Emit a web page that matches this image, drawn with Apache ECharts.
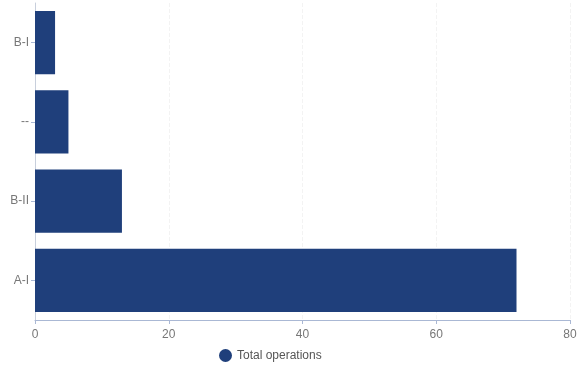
<!DOCTYPE html>
<html>
<head>
<meta charset="utf-8">
<script src="https://cdn.jsdelivr.net/npm/echarts@6/dist/echarts.min.js"></script>
<style>
  html, body { margin: 0; padding: 0; background: #fff; }
  #main { width: 580px; height: 371px; }
</style>
</head>
<body>
<div id="main"></div>
<script>
// categories bottom to top
var categories = ['A-I', 'B-II', '--', 'B-I'];
var totalOperations = [72, 13, 5, 3];
var xTicks = [0, 20, 40, 60, 80];

var myChart = echarts.init(document.getElementById('main'));
var option = {
  animation: false,
  textStyle: { fontFamily: '"Liberation Sans", Arial, sans-serif' },
  grid: { left: 35, right: 10, top: 3, bottom: 51 },
  legend: {
    bottom: 4,
    left: 214,
    icon: 'circle',
    itemWidth: 13,
    itemHeight: 13,
    itemGap: 5,
    textStyle: { color: '#555', fontSize: 12 },
    data: ['Total operations'],
  },
  xAxis: {
    type: 'value',
    min: xTicks[0],
    max: xTicks[xTicks.length - 1],
    interval: 20,
    axisLine: { show: true, lineStyle: { color: '#aab8d4' } },
    axisTick: { show: true, length: 4, lineStyle: { color: '#aab8d4' } },
    axisLabel: { color: '#777', fontSize: 12, margin: 9 },
    splitLine: { show: true, lineStyle: { color: '#f3f3f3', type: 'dashed' } },
  },
  yAxis: {
    type: 'category',
    data: categories,
    axisLine: { show: true, lineStyle: { color: '#c8cfdc' } },
    axisTick: { show: true, alignWithLabel: true, length: 4, lineStyle: { color: '#aab8d4' } },
    axisLabel: { color: '#777', fontSize: 12, margin: 6 },
  },
  series: [
    {
      name: 'Total operations',
      type: 'bar',
      data: totalOperations,
      barCategoryGap: '20%',
      itemStyle: { color: '#1f3f7b' },
    },
  ],
};
myChart.setOption(option);
</script>
</body>
</html>
